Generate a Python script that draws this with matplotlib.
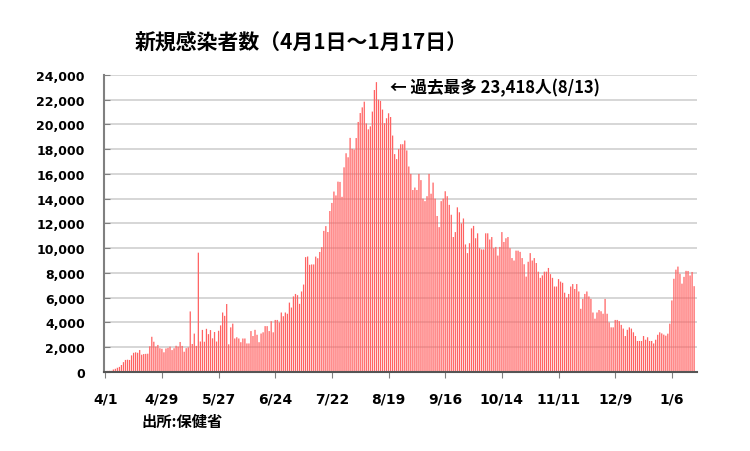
import matplotlib
matplotlib.use('Agg')
import matplotlib.pyplot as plt
import numpy as np

# daily new cases, 2021/4/1 - 2022/1/17
apr = [26, 84, 89, 84, 194, 250, 334, 405, 559, 789, 967, 985, 965, 1335, 1543,
       1582, 1547, 1767, 1390, 1443, 1458, 1470, 2070, 2839, 2438, 2048, 2179,
       1916, 1871, 1583]
may = [1891, 1940, 2041, 1763, 1911, 2112, 2044, 2419, 2101, 1630, 1919, 1983,
       4887, 2256, 3095, 2101, 9635, 2456, 3394, 2438, 3481, 3052, 3382, 2713,
       3226, 2455, 3323, 3759, 4801, 4528, 5485]
jun = [2230, 3600, 3900, 2700, 2800, 2700, 2400, 2700, 2700, 2300, 2300, 3300,
       2900, 3400, 3000, 2400, 3100, 3200, 3700, 3700, 3300, 4100, 3200, 4200,
       4200, 4000, 4800, 4500, 4800, 4700]
jul = [5600, 5200, 6100, 6300, 6200, 5500, 6500, 7058, 9276, 9326, 8656, 8685,
       8685, 9317, 9186, 9692, 10082, 11397, 11784, 11305, 13002, 13655, 14575,
       14260, 15376, 15355, 14150, 16533, 17669, 17345, 18912]
aug = [18027, 17970, 18901, 20200, 20920, 21379, 21838, 20081, 19603, 19843,
       21038, 22782, 23418, 22000, 21900, 21200, 20100, 20500, 20900, 20600,
       19100, 17600, 17200, 18000, 18400, 18400, 18700, 17900, 16600, 16000,
       14700]
sep = [14900, 14700, 16000, 15500, 14000, 13800, 14200, 16000, 14400, 15300,
       14000, 12600, 11700, 13800, 14000, 14600, 14200, 13500, 12700, 10900,
       11300, 13300, 12900, 12000, 12400, 10300, 9600, 10400, 11600, 11800]
oct_ = [10800, 11200, 10000, 9900, 9900, 11200, 11200, 10700, 10900, 10000,
        10100, 9400, 10100, 11300, 10500, 10800, 10900, 10000, 9200, 9000,
        9800, 9800, 9700, 9200, 8700, 7700, 8900, 9600, 9000, 9200, 8800]
nov = [8100, 7600, 7800, 8100, 8100, 8400, 7900, 7600, 6900, 6900, 7500, 7300,
       7200, 6400, 6000, 6300, 6900, 7100, 6700, 7100, 6500, 5100, 5900, 6300,
       6500, 6100, 5900, 4800, 4300, 4800]
dec = [5000, 4900, 4700, 5900, 4700, 4000, 3600, 3600, 4200, 4200, 4100, 3800,
       3500, 2900, 3400, 3600, 3500, 3200, 2900, 2500, 2500, 2500, 2900, 2600,
       2800, 2500, 2500, 2300, 2600, 3000, 3200]
jan = [3112, 3011, 2927, 3091, 3899, 5775, 7526, 8263, 8511, 7926, 7133, 7681,
       8167, 8158, 7793, 8077, 6929]

cases = apr + may + jun + jul + aug + sep + oct_ + nov + dec + jan
tick_days = [0, 28, 56, 84, 112, 140, 168, 196, 224, 252, 280]
tick_labels = ['4/1', '4/29', '5/27', '6/24', '7/22', '8/19', '9/16',
               '10/14', '11/11', '12/9', '1/6']

peak_day = int(np.argmax(cases))
peak_val = cases[peak_day]

jp = ['Noto Sans CJK JP', 'DejaVu Sans']

fig = plt.figure(figsize=(7.5, 4.52), dpi=100)
ax = fig.add_axes([0.139, 0.175, 0.790, 0.657])

days = np.arange(len(cases))
bars = ax.bar(days, cases, width=0.62, color='#ff6262', linewidth=0, zorder=2)
for b in bars:
    b.set_snap(False)

ax.set_xlim(-0.5, 292.3)
ax.set_ylim(0, 24000)
ax.set_yticks(np.arange(0, 24001, 2000))
ax.set_yticklabels([f'{v:,}' for v in range(0, 24001, 2000)],
                   fontsize=9, fontweight='bold')
ax.set_xticks(tick_days)
ax.set_xticklabels(tick_labels, fontsize=10, fontweight='bold')

ax.grid(axis='y', color='#d0d0d0', linewidth=1.2, zorder=0)
ax.set_axisbelow(True)
ax.tick_params(axis='y', direction='in', length=4, color='#808080', pad=14)
ax.tick_params(axis='x', direction='out', length=4, color='#808080', pad=10)

for s in ['top', 'right']:
    ax.spines[s].set_visible(False)
ax.spines['left'].set_color('#808080')
ax.spines['left'].set_linewidth(1.5)
ax.spines['bottom'].set_color('#555555')
ax.spines['bottom'].set_linewidth(1.5)

ax.text(peak_day + 6.5, 23050, f'← 過去最多 {peak_val:,}人(8/13)',
        fontsize=12, fontweight='bold', family=jp, va='center', ha='left')

fig.text(0.401, 0.905, '新規感染者数（4月1日～1月17日）', fontsize=15,
         fontweight='bold', family=jp, ha='center', va='center')
fig.text(0.188, 0.067, '出所:保健省', fontsize=11, fontweight='bold',
         family=jp, ha='left', va='center')

fig.savefig('out.png', dpi=100, facecolor='white')
